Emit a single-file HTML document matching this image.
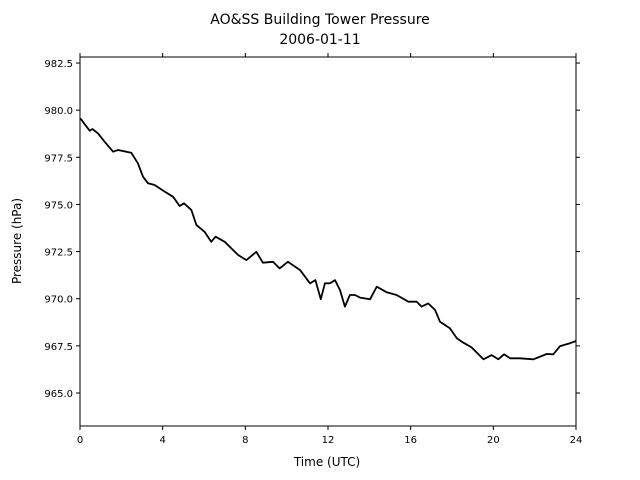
<!DOCTYPE html>
<html><head><meta charset="utf-8"><style>
body{margin:0;background:#fff;}
svg{display:block;font-family:"DejaVu Sans","Liberation Sans",sans-serif;}
</style></head><body>
<svg id="chart" width="640" height="480" viewBox="0 0 640 480">
<text x="320" y="24" text-anchor="middle" font-size="14">AO&amp;SS Building Tower Pressure</text>
<text x="320" y="44" text-anchor="middle" font-size="14">2006-01-11</text>
<text x="327" y="466" text-anchor="middle" font-size="12">Time (UTC)</text>
<text x="21" y="241" text-anchor="middle" font-size="12" transform="rotate(-90 21 241)">Pressure (hPa)</text>
<g id="axes"></g>
<rect x="80" y="57" width="496" height="369" fill="none" stroke="#000" stroke-width="1"/>
</svg>
<script>
const times=[0,0.06,0.2,0.47,0.6,0.87,1.19,1.6,1.84,2.48,2.8,3.05,3.29,3.61,4.1,4.5,4.82,5.03,5.39,5.63,6.03,6.35,6.56,7.0,7.65,8.05,8.53,8.85,9.34,9.66,10.06,10.65,11.13,11.39,11.65,11.85,12.1,12.34,12.58,12.82,13.06,13.3,13.55,14.03,14.36,14.84,15.32,15.89,16.29,16.53,16.85,17.18,17.42,17.9,18.23,18.55,18.95,19.52,19.92,20.24,20.52,20.81,21.29,21.94,22.58,22.9,23.23,23.71,24];
const pressures=[979.55,979.51,979.3,978.91,979.0,978.77,978.33,977.8,977.89,977.74,977.18,976.47,976.12,976.03,975.68,975.41,974.92,975.06,974.7,973.91,973.55,973.02,973.29,973.02,972.32,972.05,972.49,971.91,971.96,971.61,971.96,971.52,970.82,970.99,969.97,970.82,970.82,970.99,970.46,969.58,970.2,970.2,970.06,969.97,970.64,970.34,970.2,969.84,969.84,969.58,969.75,969.4,968.78,968.43,967.9,967.67,967.42,966.79,967.01,966.79,967.05,966.84,966.84,966.79,967.07,967.05,967.49,967.64,967.76];
const xTicks=[0,4,8,12,16,20,24];
const yTicks=[965.0,967.5,970.0,972.5,975.0,977.5,980.0,982.5];
const NS="http://www.w3.org/2000/svg";
const X0=80,X1=576,Y0=426,Y1=57,TMIN=0,TMAX=24,PMIN=963.25,PMAX=982.82;
function sx(t){return X0+(t-TMIN)/(TMAX-TMIN)*(X1-X0);}
function sy(p){return Y0-(p-PMIN)/(PMAX-PMIN)*(Y0-Y1);}
const svg=document.getElementById('chart');
const axes=document.getElementById('axes');
function mk(tag,attrs){const e=document.createElementNS(NS,tag);for(const k in attrs)e.setAttribute(k,attrs[k]);return e;}
xTicks.forEach(t=>{
  const x=sx(t);
  const tk=mk('line',{x1:x,x2:x,y1:Y0,y2:Y0+4,stroke:'#000'});
  
  
  axes.appendChild(tk);
  const tt=mk('line',{x1:x,x2:x,y1:Y1,y2:Y1-4,stroke:'#000'});
  
  
  axes.appendChild(tt);
  const lb=mk('text',{x:x,y:Y0+17,'text-anchor':'middle','font-size':'10'});
  lb.textContent=String(t);
  
  
  axes.appendChild(lb);
});
yTicks.forEach(p=>{
  const y=sy(p);
  const tk=mk('line',{x1:X0-4,x2:X0,y1:y,y2:y,stroke:'#000'});
  
  
  axes.appendChild(tk);
  const tr=mk('line',{x1:X1,x2:X1+4,y1:y,y2:y,stroke:'#000'});
  
  
  axes.appendChild(tr);
  const lb=mk('text',{x:X0-7,y:y+4,'text-anchor':'end','font-size':'10'});
  lb.textContent=p.toFixed(1);
  
  
  axes.appendChild(lb);
});
const d=times.map((t,i)=>(i?'L':'M')+sx(t).toFixed(1)+','+sy(pressures[i]).toFixed(1)).join(' ');
const line=mk('path',{d:d,fill:'none',stroke:'#000','stroke-width':'1.8','stroke-linejoin':'round'});


svg.appendChild(line);
</script>
</body></html>
